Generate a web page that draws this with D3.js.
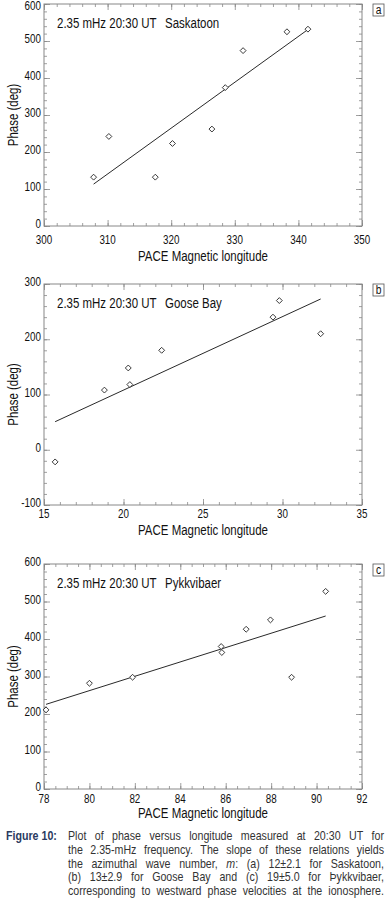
<!DOCTYPE html>
<html><head><meta charset="utf-8">
<script src="https://cdn.jsdelivr.net/npm/d3@7"></script>
<style>
body{margin:0;background:#fff}
svg{display:block}
text{font-family:"Liberation Sans",Arial,sans-serif;fill:#111}
</style></head><body>
<svg id="fig" width="390" height="917"></svg>
<script>
// ---- data ----
const lonA   = [307.8, 310.2, 317.5, 320.2, 326.4, 328.5, 331.3, 338.2, 341.5];
const phaseA = [132, 242, 132, 223, 262, 374, 474, 525, 532];
const lonB   = [15.7, 18.8, 20.3, 20.4, 22.4, 29.4, 29.8, 32.4];
const phaseB = [-22, 108, 148, 118, 180, 240, 270, 210];
const lonC   = [78.09, 80.0, 81.9, 85.8, 85.83, 86.9, 87.97, 88.9, 90.4];
const phaseC = [211, 282, 298, 380, 364, 426, 451, 298, 527];

const xTicksA = [300, 310, 320, 330, 340, 350];
const yTicksA = [0, 100, 200, 300, 400, 500, 600];
const xTicksB = [15, 20, 25, 30, 35];
const yTicksB = [-100, 0, 100, 200, 300];
const xTicksC = [78, 80, 82, 84, 86, 88, 90, 92];
const yTicksC = [0, 100, 200, 300, 400, 500, 600];

const stations = ["Saskatoon", "Goose Bay", "Pykkvibaer"];
const panelLetters = ["a", "b", "c"];
const annotation = "2.35 mHz 20:30 UT";
const xTitle = "PACE Magnetic longitude";
const yTitle = "Phase (deg)";

const captionHead = "Figure 10:";
const captionLines = [
  "Plot of phase versus longitude measured at 20:30 UT for",
  "the 2.35-mHz frequency. The slope of these relations yields",
  "the azimuthal wave number, *m*: (a) 12±2.1 for Saskatoon,",
  "(b) 13±2.9 for Goose Bay and (c) 19±5.0 for Þykkvibaer,",
  "corresponding to westward phase velocities at the ionosphere."
];

// ---- helpers ----
const svg = d3.select("#fig");
const SX = 0.82; // horizontal condensing, to mimic a narrow face
function txt(parent, x, y, str, size, anchor, rot) {
  const g = parent.append("g")
    .attr("transform", `translate(${x},${y})${rot ? " rotate(" + rot + ")" : ""} scale(${SX},1)`);
  return g.append("text").attr("x", 0).attr("y", 0).attr("font-size", size)
    .attr("text-anchor", anchor || "start").text(str);
}
function rangeStep(a, b, s) {
  const out = []; const n = Math.round((b - a) / s);
  for (let i = 0; i <= n; i++) out.push(+(a + i * s).toFixed(6));
  return out;
}

// ---- layout ----
const L = 44, R = 362;
const panels = [
  {xs: lonA, ys: phaseA, xT: xTicksA, yT: yTicksA, xMinor: 2, yMinor: 20, top: 4, bottom: 226, xlab: 18, xtit: 35},
  {xs: lonB, ys: phaseB, xT: xTicksB, yT: yTicksB, xMinor: 1, yMinor: 20, top: 284, bottom: 505, xlab: 13, xtit: 30},
  {xs: lonC, ys: phaseC, xT: xTicksC, yT: yTicksC, xMinor: 0.5, yMinor: 20, top: 564, bottom: 789, xlab: 14, xtit: 29}
];

panels.forEach((p, i) => {
  const x = d3.scaleLinear().domain([p.xT[0], p.xT[p.xT.length - 1]]).range([L, R]);
  const y = d3.scaleLinear().domain([p.yT[0], p.yT[p.yT.length - 1]]).range([p.bottom, p.top]);
  const g = svg.append("g");
  const W = R - L, H = p.bottom - p.top;
  const xMin = rangeStep(x.domain()[0], x.domain()[1], p.xMinor);
  const yMin = rangeStep(y.domain()[0], y.domain()[1], p.yMinor);

  function axisSet(axisFn, scale, vals, size, tx, ty) {
    const a = g.append("g").attr("transform", `translate(${tx},${ty})`)
      .call(axisFn(scale).tickValues(vals).tickSize(size).tickFormat(""));
    a.select(".domain").remove();
    a.selectAll("line").attr("stroke", "#888").attr("stroke-width", 0.8);
  }
  axisSet(d3.axisBottom, x, xMin, -3, 0, p.bottom);
  axisSet(d3.axisBottom, x, p.xT, -6, 0, p.bottom);
  axisSet(d3.axisTop, x, xMin, -3, 0, p.top);
  axisSet(d3.axisTop, x, p.xT, -6, 0, p.top);
  axisSet(d3.axisLeft, y, yMin, -3, L, 0);
  axisSet(d3.axisLeft, y, p.yT, -6, L, 0);
  axisSet(d3.axisRight, y, yMin, -3, R, 0);
  axisSet(d3.axisRight, y, p.yT, -6, R, 0);

  g.append("rect").attr("x", L).attr("y", p.top).attr("width", W).attr("height", H)
    .attr("fill", "none").attr("stroke", "#888").attr("stroke-width", 1);

  // tick labels
  p.xT.forEach(d => txt(g, x(d), p.bottom + p.xlab, d, 12, "middle"));
  p.yT.forEach(d => txt(g, L - 3, Math.max(y(d) + 2, 10), d, 12, "end"));

  // titles
  txt(g, (L + R) / 2, p.bottom + p.xtit, xTitle, 14, "middle");
  txt(g, 18, (p.top + p.bottom) / 2, yTitle, 14, "middle", -90);

  // annotation
  txt(g, 57, p.top + 24, annotation, 14, "start");
  txt(g, 165, p.top + 24, stations[i], 14, "start");

  // panel letter box
  g.append("rect").attr("x", 373).attr("y", p.top).attr("width", 11).attr("height", 12)
    .attr("fill", "#fff").attr("stroke", "#555").attr("stroke-width", 0.8);
  txt(g, 378.5, p.top + 10, panelLetters[i], 12.5, "middle");

  // least-squares fit line spanning the data
  const mx = d3.mean(p.xs), my = d3.mean(p.ys);
  let sxy = 0, sxx = 0;
  p.xs.forEach((v, k) => { sxy += (v - mx) * (p.ys[k] - my); sxx += (v - mx) * (v - mx); });
  const slope = sxy / sxx;
  const fit = d3.extent(p.xs).map(v => [v, my + slope * (v - mx)]);
  g.append("path").attr("d", d3.line().x(d => x(d[0])).y(d => y(d[1]))(fit))
    .attr("stroke", "#111").attr("stroke-width", 0.9).attr("fill", "none");

  // diamond markers
  const sym = d3.symbol().type(d3.symbolDiamond2).size(22);
  g.selectAll(".pt").data(p.xs.map((v, k) => [v, p.ys[k]])).join("path")
    .attr("d", sym).attr("transform", d => `translate(${x(d[0])},${y(d[1])})`)
    .attr("fill", "#fff").attr("stroke", "#222").attr("stroke-width", 0.9);
});

// ---- caption (justified) ----
const capTop = 840, lineH = 13.8, bodyX = 68, bodyR = 384, capSize = 13;
txt(svg, 6, capTop, captionHead, capSize, "start").attr("font-weight", "bold").style("fill", "#2a3a60");

captionLines.forEach((line, li) => {
  const yy = capTop + li * lineH;
  const words = line.split(" ");
  const items = words.map(w => {
    const g = svg.append("g");
    const t = g.append("text").attr("font-size", capSize).style("fill", "#333");
    w.split("*").forEach((pt, pi) => {
      if (pt) t.append("tspan").attr("font-style", pi % 2 ? "italic" : "normal").text(pt);
    });
    return {g, w: t.node().getComputedTextLength() * SX};
  });
  const total = d3.sum(items, d => d.w);
  const gap = (bodyR - bodyX - total) / (words.length - 1);
  let cx = bodyX;
  items.forEach(it => { it.g.attr("transform", `translate(${cx},${yy}) scale(${SX},1)`); cx += it.w + gap; });
});
</script>
</body></html>
